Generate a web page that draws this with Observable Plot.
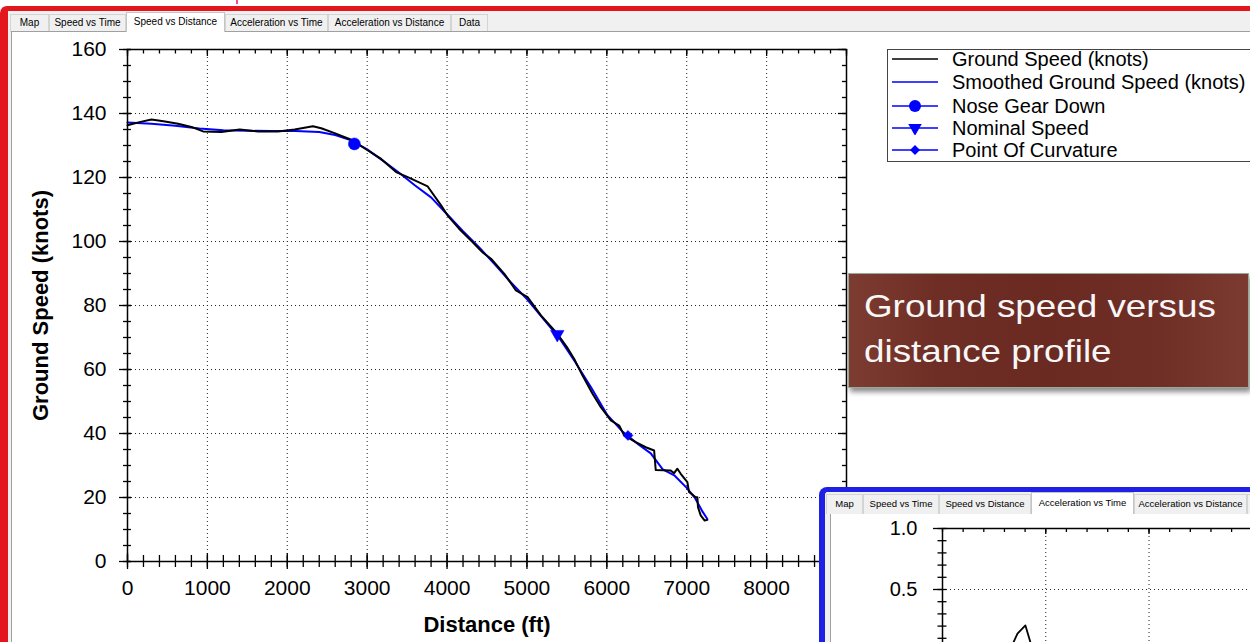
<!DOCTYPE html>
<html>
<head>
<meta charset="utf-8">
<script src="https://cdn.jsdelivr.net/npm/d3@7"></script>
<script src="https://cdn.jsdelivr.net/npm/@observablehq/plot@0.6"></script>
<style>
html, body { margin:0; padding:0; width:1250px; height:642px; overflow:hidden; background:#fff; }
body { position:relative; font-family:"Liberation Sans", Arial, sans-serif; }
.abs { position:absolute; box-sizing:border-box; }
#pink { left:236px; top:0; width:2px; height:4px; background:#f0508a; }
#frame { left:0; top:6px; width:1270px; height:660px; border-left:8px solid #e2161c; border-top:5px solid #e2161c; border-top-left-radius:7px; background:#f0f0f0; }
.tab { position:absolute; box-sizing:border-box; border:1px solid #d4d4d4; border-bottom:none; background:#f0f0f0; color:#000; text-align:center; white-space:nowrap; overflow:hidden; }
.tab.sel { background:#fff; border-color:#c4c4c4; z-index:3; }
#panel { left:11px; top:31px; width:1260px; height:640px; background:#fff; border-left:1px solid #a0a0a0; border-top:1px solid #a0a0a0; z-index:1; }
#main { position:absolute; left:0; top:0; z-index:2; max-width:none; }
#legend { left:887px; top:49px; width:380px; height:113px; background:#fff; border:1px solid #444; z-index:4; }
.lrow { position:absolute; left:0; height:22px; width:380px; }
.lrow svg { position:absolute; left:4px; top:4px; }
.lrow span { position:absolute; left:64px; top:0; font-size:20px; line-height:22px; color:#000; white-space:nowrap; }
#note { left:848px; top:273px; width:401px; height:115px; background:linear-gradient(90deg,#7d3c31 0%,#6e2e25 22%,#6a2a21 50%,#702f26 78%,#7c3b30 100%); border:1px solid #9aa89a; box-shadow:2px 4px 5px rgba(0,0,0,0.45); z-index:4; color:#f7f7f7; }
#note .t { position:absolute; left:15px; top:10px; font-size:32px; line-height:45px; transform:scaleX(1.15); transform-origin:0 0; white-space:nowrap; }
#inset { left:819px; top:487px; width:460px; height:180px; border-left:6px solid #1f1fe6; border-top:5px solid #1f1fe6; border-top-left-radius:8px; background:#f0f0f0; z-index:5; overflow:hidden; }
#ipanel { left:5px; top:21px; width:460px; height:200px; background:#fff; border-left:1px solid #a0a0a0; border-top:1px solid #a0a0a0; }
#iplot { position:absolute; left:5px; top:21px; max-width:none; }
</style>
</head>
<body>
<div id="pink" class="abs"></div>
<div id="frame" class="abs"></div>
<div id="panel" class="abs"></div>
<div id="tabs"></div>
<div id="legend" class="abs"></div>
<div id="note" class="abs"><div class="t">Ground speed versus<br>distance profile</div></div>
<div id="inset" class="abs"><div id="ipanel" class="abs"></div></div>
<script>
// ---------- Main chart data ----------
const xTickValues = [0, 1000, 2000, 3000, 4000, 5000, 6000, 7000, 8000];
const xTickLabels = ["0", "1000", "2000", "3000", "4000", "5000", "6000", "7000", "8000"];
const yTickValues = [0, 20, 40, 60, 80, 100, 120, 140, 160];
const yTickLabels = ["0", "20", "40", "60", "80", "100", "120", "140", "160"];

const groundDist  = [0, 150, 300, 450, 633, 800, 946, 1175, 1404, 1633, 1883, 2092, 2321, 2425, 2600, 2800, 3000, 3175, 3362, 3508, 3758, 3925, 4008, 4150, 4300, 4450, 4550, 4717, 4862, 5008, 5175, 5383, 5500, 5592, 5696, 5821, 5925, 6050, 6154, 6217, 6362, 6487, 6592, 6612, 6800, 6842, 6883, 6925, 7008, 7029, 7112, 7133, 7141, 7175, 7225, 7258];
const groundSpeed = [136.3, 137.3, 138.1, 137.6, 136.8, 135.8, 134.4, 134.2, 135.0, 134.4, 134.4, 135.0, 136.0, 135.4, 133.8, 131.8, 128.6, 125.8, 121.7, 120.1, 117.2, 111.3, 108.1, 104.0, 100.3, 96.5, 94.6, 89.9, 84.7, 82.6, 76.9, 71.1, 67.0, 63.3, 58.1, 52.4, 48.2, 44.1, 42.5, 39.4, 37.3, 35.7, 34.7, 28.6, 28.4, 27.6, 29.0, 27.4, 24.8, 21.7, 20.1, 20.1, 17.0, 14.4, 12.8, 13.0];

const smoothDist  = [0, 300, 600, 900, 1200, 1500, 1800, 2100, 2400, 2600, 2800, 3000, 3200, 3400, 3600, 3800, 4000, 4200, 4400, 4600, 4800, 5000, 5200, 5400, 5600, 5800, 6000, 6200, 6400, 6550, 6700, 6850, 7000, 7100, 7200, 7258];
const smoothSpeed = [137.2, 136.8, 136.2, 135.3, 134.8, 134.6, 134.5, 134.5, 134.2, 133.3, 131.6, 128.8, 125.2, 121.5, 117.5, 113.8, 108.5, 103.2, 98.2, 92.8, 87.2, 82.0, 76.0, 70.0, 62.5, 54.5, 46.0, 40.5, 36.5, 33.8, 28.8, 26.8, 23.0, 20.0, 15.5, 13.3];

const eventNames = ["Nose Gear Down", "Nominal Speed", "Point Of Curvature"];
const eventDist  = [2840, 5380, 6265];
const eventSpeed = [130.5, 71.0, 39.4];

const seriesNames = ["Ground Speed (knots)", "Smoothed Ground Speed (knots)", "Nose Gear Down", "Nominal Speed", "Point Of Curvature"];

// ---------- Inset chart data ----------
const accelTime  = [6.6, 6.87, 7.26, 8.03, 8.52, 8.8];
const accelValue = [0.0, 0.066, 0.139, 0.205, 0.066, -0.02];
const insetYTickValues = [1.0, 0.5, 0.0];
const insetYTickLabels = ["1.0", "0.5", "0.0"];
const insetXGrid = [10, 20, 30, 40];

const tabNames = ["Map", "Speed vs Time", "Speed vs Distance", "Acceleration vs Time", "Acceleration vs Distance", "Data"];

// ---------- helpers ----------
const triangleDown = {
  draw(context, size) {
    const y = Math.sqrt(size / (Math.sqrt(3) * 3));
    context.moveTo(0, 2 * y);
    context.lineTo(-Math.sqrt(3) * y, -y);
    context.lineTo(Math.sqrt(3) * y, -y);
    context.closePath();
  }
};
const BLUE = "#0000ff";
const eventStyle = {
  "Nose Gear Down": {symbol: "circle", r: 6},
  "Nominal Speed": {symbol: triangleDown, r: 5},
  "Point Of Curvature": {symbol: "diamond2", r: 4.5}
};

// ---------- tabs ----------
function makeTabs(container, lefts, rights, selected, topSel, topUn, bottom, fontSize, count) {
  tabNames.forEach((n, i) => {
    const t = document.createElement("div");
    t.className = "tab" + (i === selected ? " sel" : "");
    const top = i === selected ? topSel : topUn;
    t.style.left = lefts[i] + "px";
    t.style.width = (rights[i] - lefts[i]) + "px";
    t.style.top = top + "px";
    t.style.height = (bottom - top) + "px";
    t.style.fontSize = fontSize + "px";
    t.style.lineHeight = (bottom - top - 2) + "px";
    t.textContent = i < count ? n : "";
    container.appendChild(t);
  });
}
makeTabs(document.getElementById("tabs"), [10, 49, 126, 225, 328, 451], [49, 126, 225, 328, 451, 488], 2, 12, 14, 32, 10, 6);
makeTabs(document.getElementById("inset"), [1, 38, 114, 206, 309, 422], [38, 114, 206, 309, 422, 470], 3, 0, 2, 22, 9.5, 5);

// ---------- main plot ----------
const ground = groundDist.map((d, i) => ({d, s: groundSpeed[i]}));
const smooth = smoothDist.map((d, i) => ({d, s: smoothSpeed[i]}));
const events = eventNames.map((n, i) => ({n, d: eventDist[i], s: eventSpeed[i]}));

const xMinor = d3.range(0, 9001, 200);
const xMajorAll = d3.range(0, 9001, 1000);
const yMinor = d3.range(0, 161, 5);
const yMajorAll = d3.range(0, 161, 20);
const dotted = {stroke: "#222", strokeWidth: 1, strokeDasharray: "1,3"};

const main = Plot.plot({
  width: 1250, height: 642,
  marginLeft: 127, marginRight: 404, marginTop: 49, marginBottom: 81,
  x: {domain: [0, 9000], axis: null},
  y: {domain: [0, 160], axis: null},
  style: {background: "transparent", fontFamily: "'Liberation Sans', Arial, sans-serif", fontSize: "21px", color: "#000", overflow: "visible"},
  marks: [
    Plot.ruleX(xTickValues.filter(v => v > 0), dotted),
    Plot.ruleY(yTickValues.filter(v => v > 0 && v < 160), dotted),
    Plot.line(smooth, {x: "d", y: "s", stroke: BLUE, strokeWidth: 2}),
    Plot.line(ground, {x: "d", y: "s", stroke: "#000", strokeWidth: 2}),
    ...events.map(e => Plot.dot([e], {x: "d", y: "s", fill: BLUE, stroke: BLUE, strokeWidth: 0.5, ...eventStyle[e.n]})),
    Plot.frame({stroke: "#000", strokeWidth: 1.5}),
    // bottom axis ticks (crossing)
    Plot.ruleX(xMinor, {x: d => d, y1: () => 0, y2: () => 0, insetTop: -6, insetBottom: -6, stroke: "#000", strokeWidth: 1.3}),
    Plot.ruleX(xMajorAll, {x: d => d, y1: () => 0, y2: () => 0, insetTop: -8, insetBottom: -8, stroke: "#000", strokeWidth: 1.3}),
    // top axis ticks (inward)
    Plot.ruleX(xMinor, {x: d => d, y1: () => 160, y2: () => 160, insetTop: 0, insetBottom: -4.5, stroke: "#000", strokeWidth: 1.3}),
    Plot.ruleX(xMajorAll, {x: d => d, y1: () => 160, y2: () => 160, insetTop: 0, insetBottom: -7, stroke: "#000", strokeWidth: 1.3}),
    // left axis ticks
    Plot.ruleY(yMinor, {y: d => d, x1: () => 0, x2: () => 0, insetLeft: -4, insetRight: -4, stroke: "#000", strokeWidth: 1.3}),
    Plot.ruleY(yMajorAll, {y: d => d, x1: () => 0, x2: () => 0, insetLeft: -8, insetRight: -4, stroke: "#000", strokeWidth: 1.3}),
    // right axis ticks (inward)
    Plot.ruleY(yMinor, {y: d => d, x1: () => 9000, x2: () => 9000, insetLeft: -4, insetRight: 0, stroke: "#000", strokeWidth: 1.3}),
    Plot.ruleY(yMajorAll, {y: d => d, x1: () => 9000, x2: () => 9000, insetLeft: -8, insetRight: 0, stroke: "#000", strokeWidth: 1.3}),
    // tick labels
    Plot.text(xTickValues, {x: d => d, y: () => 0, dy: 27, text: (d, i) => xTickLabels[i], fontSize: 21}),
    Plot.text(yTickValues, {x: () => 0, y: d => d, dx: -21, textAnchor: "end", text: (d, i) => yTickLabels[i], fontSize: 21}),
    // axis titles
    Plot.text(["Distance (ft)"], {frameAnchor: "bottom", dy: 70, text: d => d, fontWeight: "bold", fontSize: 22}),
    Plot.text(["Ground Speed (knots)"], {frameAnchor: "left", dx: -87, rotate: -90, textAnchor: "middle", text: d => d, fontWeight: "bold", fontSize: 22})
  ]
});
main.id = "main";
document.body.appendChild(main);

// ---------- legend ----------
const legend = document.getElementById("legend");
const rowTops = [-2, 21, 45, 67, 89];
seriesNames.forEach((n, i) => {
  const row = document.createElement("div");
  row.className = "lrow";
  row.style.top = rowTops[i] + "px";
  const svg = d3.create("svg").attr("width", 46).attr("height", 14);
  const color = i === 0 ? "#000" : BLUE;
  svg.append("line").attr("x1", 0).attr("x2", 46).attr("y1", 7).attr("y2", 7).attr("stroke", color).attr("stroke-width", 1.6);
  if (i >= 2) {
    const st = eventStyle[n];
    const type = st.symbol === "circle" ? d3.symbolCircle : st.symbol === "diamond2" ? d3.symbolDiamond2 : st.symbol;
    svg.append("path").attr("transform", "translate(23,7)").attr("d", d3.symbol(type, Math.PI * st.r * st.r)()).attr("fill", BLUE);
  }
  row.appendChild(svg.node());
  const sp = document.createElement("span");
  sp.textContent = n;
  row.appendChild(sp);
  legend.appendChild(row);
});

// ---------- inset plot ----------
const accel = accelTime.map((t, i) => ({t, a: accelValue[i]}));
const ixMinor = d3.range(0, 40.01, 2);
const iyMinor = d3.range(-0.5, 1.001, 0.1).map(v => Math.round(v * 10) / 10);
const iyMajor = [-0.5, 0, 0.5, 1.0];
const inset = Plot.plot({
  width: 530, height: 200,
  marginLeft: 112, marginRight: 5, marginTop: 15, marginBottom: 2,
  x: {domain: [0, 40], axis: null},
  y: {domain: [-0.5, 1.0], axis: null},
  style: {background: "transparent", fontFamily: "'Liberation Sans', Arial, sans-serif", fontSize: "20px", color: "#000", overflow: "visible", maxWidth: "none"},
  marks: [
    Plot.ruleX(insetXGrid, dotted),
    Plot.ruleY([0.5, 0], dotted),
    Plot.line(accel, {x: "t", y: "a", stroke: "#000", strokeWidth: 1.8}),
    Plot.frame({stroke: "#000", strokeWidth: 1.5}),
    Plot.ruleX(ixMinor, {x: d => d, y1: () => 1, y2: () => 1, insetTop: 0, insetBottom: -4, stroke: "#000", strokeWidth: 1.3}),
    Plot.ruleX(insetXGrid, {x: d => d, y1: () => 1, y2: () => 1, insetTop: 0, insetBottom: -6, stroke: "#000", strokeWidth: 1.3}),
    Plot.ruleY(iyMinor, {y: d => d, x1: () => 0, x2: () => 0, insetLeft: -4.5, insetRight: -4.5, stroke: "#000", strokeWidth: 1.3}),
    Plot.ruleY(iyMajor, {y: d => d, x1: () => 0, x2: () => 0, insetLeft: -9, insetRight: 0, stroke: "#000", strokeWidth: 1.3}),
    Plot.text(insetYTickValues, {x: () => 0, y: d => d, dx: -25, textAnchor: "end", text: (d, i) => insetYTickLabels[i], fontSize: 20})
  ]
});
inset.id = "iplot";
inset.style.maxWidth = "none";
document.getElementById("inset").appendChild(inset);
</script>
</body>
</html>
